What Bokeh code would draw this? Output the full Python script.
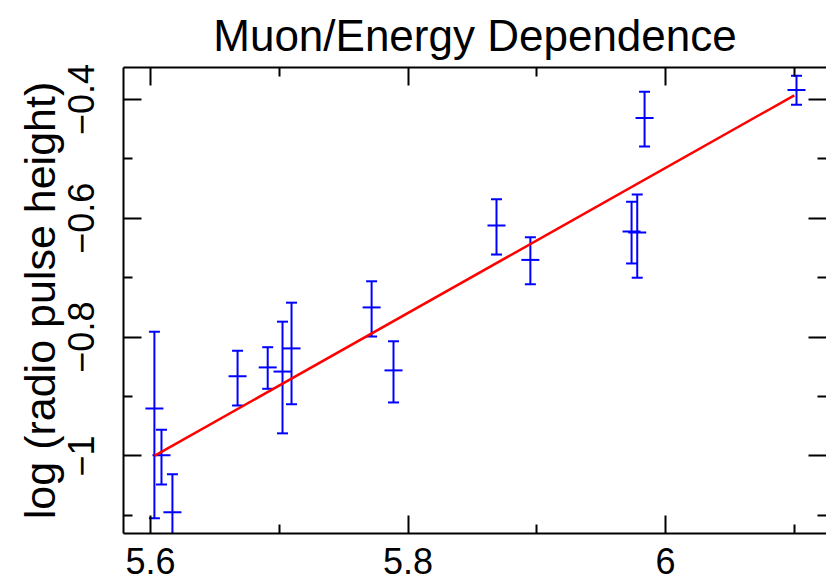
from bokeh.plotting import figure
from bokeh.models import FixedTicker, LinearAxis, Range1d, ColumnDataSource
from bokeh.embed import file_html
from bokeh.resources import INLINE

# ---- data ----
energy = [5.603, 5.6085, 5.617, 5.6676, 5.691, 5.7025, 5.7095, 5.7717,
          5.7887, 5.8687, 5.895, 5.9736, 5.978, 5.9837, 6.1017]
pulse = [-0.920, -0.999, -1.095, -0.866, -0.851, -0.858, -0.819, -0.750,
         -0.856, -0.612, -0.670, -0.622, -0.624, -0.431, -0.384]
upper = [-0.791, -0.956, -1.031, -0.823, -0.817, -0.774, -0.742, -0.706,
         -0.807, -0.568, -0.632, -0.572, -0.560, -0.387, -0.360]
lower = [-1.105, -1.048, -1.170, -0.915, -0.887, -0.962, -0.913, -0.799,
         -0.910, -0.661, -0.711, -0.676, -0.700, -0.479, -0.409]

fit_x = [5.603, 6.100]
fit_y = [-1.000, -0.393]

x_major = [5.6, 5.8, 6.0]
x_minor = [5.7, 5.9, 6.1]
x_labels = ["5.6", "5.8", "6"]
y_major = [-0.4, -0.6, -0.8, -1.0]
y_minor = [-0.5, -0.7, -0.9, -1.1]
y_labels = ["\u22120.4", "\u22120.6", "\u22120.8", "\u22121"]

title_text = "Muon/Energy Dependence"
y_title = "log (radio pulse height)"

FONT = "Liberation Sans"

src = ColumnDataSource(dict(x=energy, y=pulse, hi=upper, lo=lower))

p = figure(width=826, height=585, output_backend="svg", toolbar_location=None,
           x_range=Range1d(5.579, 6.125), y_range=Range1d(-1.1306, -0.3461),
           min_border_left=123, min_border_right=0, min_border_top=67,
           min_border_bottom=52, background_fill_color="white",
           border_fill_color="white")
p.outline_line_color = None
p.xgrid.visible = False
p.ygrid.visible = False

top_ax = LinearAxis()
right_ax = LinearAxis()
p.add_layout(top_ax, "above")
p.add_layout(right_ax, "right")


def style(ax, major, minor):
    ax.ticker = FixedTicker(ticks=major, minor_ticks=minor)
    ax.major_tick_in = 18
    ax.major_tick_out = 0
    ax.minor_tick_in = 9
    ax.minor_tick_out = 0
    ax.major_tick_line_width = 2
    ax.minor_tick_line_width = 2
    ax.axis_line_width = 2
    ax.major_tick_line_color = "black"
    ax.minor_tick_line_color = "black"
    ax.axis_line_color = "black"
    ax.major_label_text_font = FONT
    ax.major_label_text_color = "black"
    ax.major_label_text_font_size = "36px"


for ax in p.below + [top_ax]:
    style(ax, x_major, x_minor)
for ax in p.left + [right_ax]:
    style(ax, y_major, y_minor)

xa = p.below[0]
xa.major_label_overrides = dict(zip(x_major, x_labels))
xa.major_label_standoff = 14

ya = p.left[0]
ya.major_label_overrides = dict(zip(y_major, y_labels))
ya.major_label_orientation = "vertical"
ya.major_label_standoff = 29
ya.axis_label = y_title
ya.axis_label_text_font = FONT
ya.axis_label_text_font_size = "43px"
ya.axis_label_text_font_style = "normal"
ya.axis_label_text_color = "black"
ya.axis_label_standoff = 2

# top and right axes carry ticks only
for ax in (top_ax, right_ax):
    ax.major_label_text_font_size = "1px"
    ax.major_label_text_color = None
    ax.major_label_standoff = 0
right_ax.axis_line_color = None

p.title.text = title_text
p.title.text_font = FONT
p.title.text_font_size = "44px"
p.title.text_font_style = "normal"
p.title.text_color = "black"
p.title.align = "center"
p.title.standoff = 15

# error bars
p.segment(x0="x", y0="lo", x1="x", y1="hi", source=src, line_color="#0000ff", line_width=2)
p.scatter(x="x", y="hi", source=src, marker="dash", size=11, line_color="#0000ff", line_width=2)
p.scatter(x="x", y="lo", source=src, marker="dash", size=11, line_color="#0000ff", line_width=2)
p.scatter(x="x", y="y", source=src, marker="dash", size=18, line_color="#0000ff", line_width=2)

# fitted line
p.line(fit_x, fit_y, line_color="#ff0000", line_width=2.5)

open("out.html", "w").write(file_html(p, INLINE))
